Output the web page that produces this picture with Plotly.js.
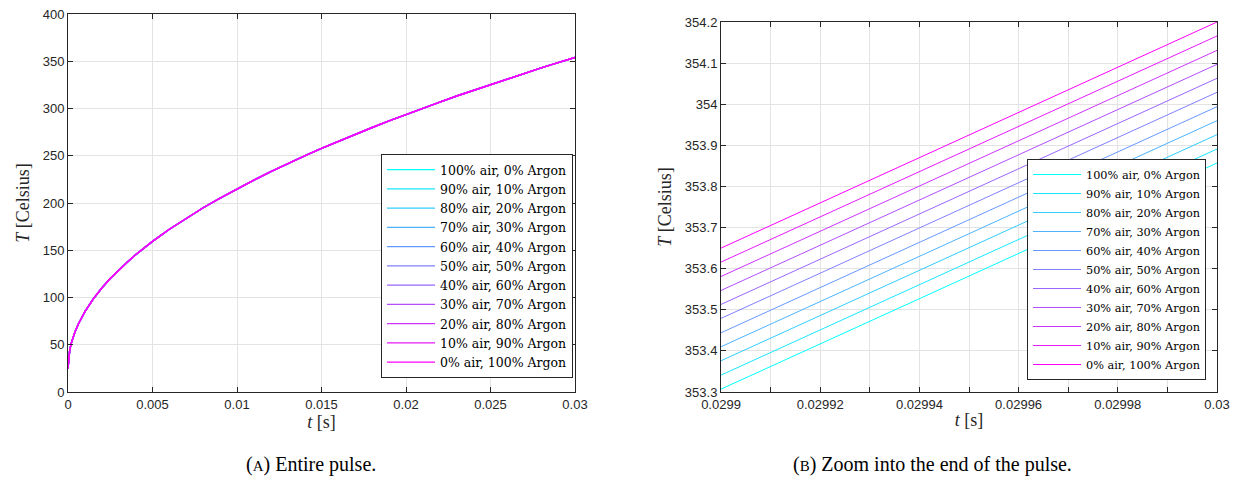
<!DOCTYPE html>
<html>
<head>
<meta charset="utf-8">
<script src="https://cdn.plot.ly/plotly-3.0.1.min.js"></script>
<style>html,body{margin:0;padding:0;background:#fff;}#plot{width:1243px;height:488px;}</style>
</head>
<body>
<div id="plot"></div>
<script>
// ---- data ----
const seriesNames = [
  "100% air, 0% Argon", "90% air, 10% Argon", "80% air, 20% Argon",
  "70% air, 30% Argon", "60% air, 40% Argon", "50% air, 50% Argon",
  "40% air, 60% Argon", "30% air, 70% Argon", "20% air, 80% Argon",
  "10% air, 90% Argon", "0% air, 100% Argon"
];
const seriesColors = [
  "rgb(0,255,255)", "rgb(26,230,255)", "rgb(51,204,255)", "rgb(77,179,255)",
  "rgb(102,153,255)", "rgb(128,128,255)", "rgb(153,102,255)", "rgb(179,77,255)",
  "rgb(204,51,255)", "rgb(230,26,255)", "rgb(255,0,255)"
];
// Panel A: entire pulse (all series overlap visually)
const tEntire = [0, 0.0001, 0.0002, 0.0003, 0.0004, 0.0006, 0.0008, 0.001, 0.0015, 0.002, 0.0025,
                 0.003, 0.0035, 0.004, 0.0045, 0.005, 0.006, 0.007, 0.008, 0.009, 0.01,
                 0.011, 0.012, 0.013, 0.014, 0.015, 0.016, 0.017, 0.018, 0.019, 0.02,
                 0.021, 0.022, 0.023, 0.024, 0.025, 0.026, 0.027, 0.028, 0.029, 0.03];
const TEntire = [25, 44, 52, 58, 63, 71.5, 78.7, 85, 98.6, 110, 120,
                 129, 137.4, 145.2, 152.5, 159.4, 172.2, 184, 195, 205.2, 215,
                 224.3, 233.1, 241.6, 249.8, 257.7, 265.3, 272.7, 279.9, 286.9, 293.7,
                 300.3, 306.8, 313.2, 319.3, 325.4, 331.4, 337.2, 342.9, 348.6, 354];
// Panel B: zoom into the end of the pulse
const tZoom = [0.0299, 0.03];
const TZoomStart = [353.307, 353.341, 353.376, 353.410, 353.444, 353.479, 353.513, 353.547, 353.581, 353.616, 353.650];
const TZoomEnd   = [353.857, 353.891, 353.926, 353.960, 353.994, 354.029, 354.063, 354.097, 354.131, 354.166, 354.200];
// ticks
const xTicksA = [0, 0.005, 0.01, 0.015, 0.02, 0.025, 0.03];
const xTickTextA = ["0", "0.005", "0.01", "0.015", "0.02", "0.025", "0.03"];
const yTicksA = [0, 50, 100, 150, 200, 250, 300, 350, 400];
const xTicksB = [0.0299, 0.02991, 0.02992, 0.02993, 0.02994, 0.02995, 0.02996, 0.02997, 0.02998, 0.02999, 0.03];
const xTickTextB = ["0.0299", "", "0.02992", "", "0.02994", "", "0.02996", "", "0.02998", "", "0.03"];
const yTicksB = [353.3, 353.4, 353.5, 353.6, 353.7, 353.8, 353.9, 354.0, 354.1, 354.2];
const yTickTextB = ["353.3", "353.4", "353.5", "353.6", "353.7", "353.8", "353.9", "354", "354.1", "354.2"];

// ---- traces ----
const traces = [];
seriesNames.forEach((name, i) => {
  traces.push({
    x: tEntire, y: TEntire, type: "scatter", mode: "lines", name: name,
    line: {color: seriesColors[i], width: 1.4},
    xaxis: "x", yaxis: "y", legend: "legend"
  });
});
seriesNames.forEach((name, i) => {
  traces.push({
    x: tZoom, y: [TZoomStart[i], TZoomEnd[i]], type: "scatter", mode: "lines", name: name,
    line: {color: seriesColors[i], width: 1}, xaxis: "x2", yaxis: "y2", legend: "legend2"
  });
});

const W = 1243, H = 488;
const axColor = "#262626";
const tickFont = {family: "Liberation Sans, Arial, sans-serif", size: 13, color: axColor};
const titleFont = {family: "Liberation Serif, DejaVu Serif, serif", size: 18, color: axColor};
const baseAxis = {
  showline: true, linecolor: axColor, linewidth: 1, mirror: "ticks",
  ticks: "inside", ticklen: 5, tickcolor: axColor, tickwidth: 1,
  showgrid: true, gridcolor: "#e3e3e3", gridwidth: 1, zeroline: false,
  tickfont: tickFont, tickmode: "array"
};
const legendBase = {
  bgcolor: "#ffffff", bordercolor: axColor, borderwidth: 1,
  font: {family: "DejaVu Serif, Liberation Serif, serif", size: 12.5, color: "#000"},
  xanchor: "right", yanchor: "bottom", itemwidth: 48, tracegroupgap: 0
};

const layout = {
  width: W, height: H, margin: {l: 0, r: 0, t: 0, b: 0},
  paper_bgcolor: "#fff", plot_bgcolor: "#fff", showlegend: true,
  xaxis: Object.assign({}, baseAxis, {
    domain: [68 / W, 575 / W], range: [0, 0.03], anchor: "y",
    tickvals: xTicksA, ticktext: xTickTextA,
    title: {text: "<i>t</i> [s]", font: titleFont, standoff: 2}
  }),
  yaxis: Object.assign({}, baseAxis, {
    domain: [(H - 392) / H, (H - 14) / H], range: [0, 400], anchor: "x",
    tickvals: yTicksA,
    title: {text: "<i>T</i> [Celsius]", font: titleFont, standoff: 8}
  }),
  xaxis2: Object.assign({}, baseAxis, {
    domain: [721 / W, 1217 / W], range: [0.0299, 0.03], anchor: "y2",
    tickvals: xTicksB, ticktext: xTickTextB,
    title: {text: "<i>t</i> [s]", font: titleFont, standoff: 2}
  }),
  yaxis2: Object.assign({}, baseAxis, {
    domain: [(H - 392) / H, (H - 22) / H], range: [353.3, 354.2], anchor: "x2",
    tickvals: yTicksB, ticktext: yTickTextB,
    title: {text: "<i>T</i> [Celsius]", font: titleFont, standoff: 8}
  }),
  legend: Object.assign({}, legendBase, {x: 573 / W, y: (H - 378) / H}),
  legend2: Object.assign({}, legendBase, {x: 1206 / W, y: (H - 380) / H,
    font: {family: "DejaVu Serif, Liberation Serif, serif", size: 11.3, color: "#000"}}),
  annotations: [
    {text: "(<span style='font-size:15px'>A</span>) Entire pulse.", xref: "paper", yref: "paper",
     x: 311 / W, y: (H - 464) / H, xanchor: "center", yanchor: "middle", showarrow: false,
     font: {family: "Liberation Serif, DejaVu Serif, serif", size: 20, color: "#000"}},
    {text: "(<span style='font-size:15px'>B</span>) Zoom into the end of the pulse.", xref: "paper", yref: "paper",
     x: 932 / W, y: (H - 464) / H, xanchor: "center", yanchor: "middle", showarrow: false,
     font: {family: "Liberation Serif, DejaVu Serif, serif", size: 20, color: "#000"}}
  ]
};

Plotly.newPlot("plot", traces, layout, {staticPlot: true, displayModeBar: false});
</script>
</body>
</html>
